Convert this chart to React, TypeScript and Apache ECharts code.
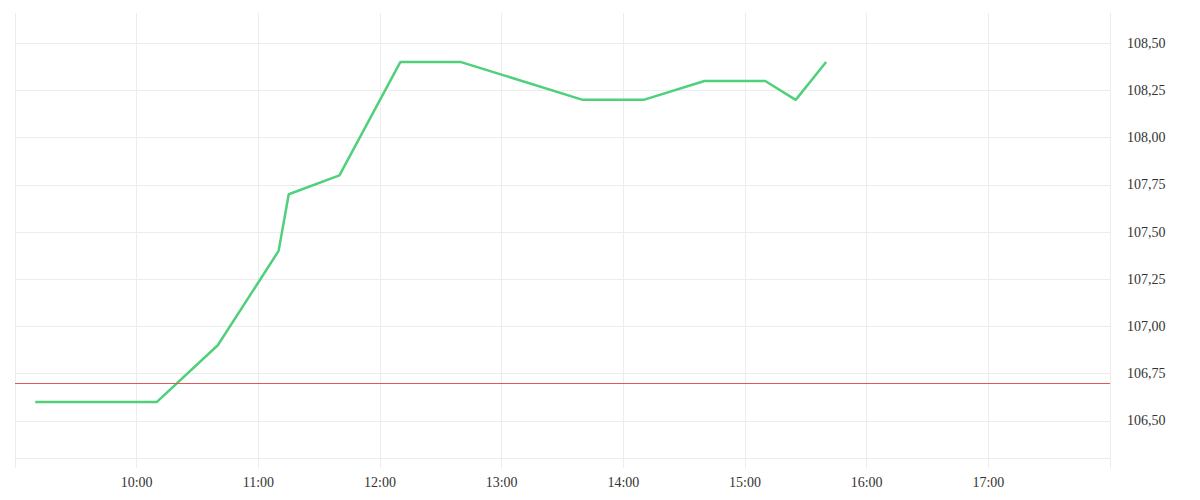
import { useEffect, useRef } from "react";
import * as echarts from "echarts";

// trading times and prices
const times = [
  "09:10", "10:10", "10:40", "11:10", "11:15", "11:40", "12:10",
  "12:40", "13:40", "14:10", "14:40", "15:10", "15:25", "15:40",
];
const prices = [
  106.6, 106.6, 106.9, 107.4, 107.7, 107.8, 108.4,
  108.4, 108.2, 108.2, 108.3, 108.3, 108.2, 108.4,
];
const referencePrice = 106.7;
const dayStart = "09:00";
const dayEnd = "18:00";
const priceMin = 106.25;
const priceMax = 108.66;
const priceStep = 0.25;

const toMinutes = (t: string) => {
  const [h, m] = t.split(":").map(Number);
  return h * 60 + m;
};
const fmtTime = (v: number) => {
  const h = Math.floor(v / 60);
  const m = v % 60;
  return `${h < 10 ? "0" + h : h}:${m < 10 ? "0" + m : m}`;
};

const GRID = "#ececec";
const FONT = "'Liberation Serif', serif";

export default function App() {
  const chartRef = useRef<HTMLDivElement>(null);

  useEffect(() => {
    if (!chartRef.current) return;
    const chart = echarts.init(chartRef.current, undefined, { renderer: "svg" });

    const option: echarts.EChartsOption = {
      animation: false,
      grid: { left: 7, right: 82, top: 5, bottom: 40 },
      xAxis: {
        type: "value",
        min: toMinutes(dayStart),
        max: toMinutes(dayEnd),
        interval: 60,
        offset: -10,
        axisLine: { show: true, lineStyle: { color: GRID } },
        axisTick: { show: true, length: 10, lineStyle: { color: GRID } },
        splitLine: { show: true, lineStyle: { color: GRID } },
        axisLabel: {
          showMinLabel: false,
          showMaxLabel: false,
          margin: 17,
          color: "#333",
          fontFamily: FONT,
          fontSize: 14,
          formatter: (v: number) => fmtTime(v),
        },
      },
      yAxis: {
        type: "value",
        position: "right",
        min: priceMin,
        max: priceMax,
        interval: priceStep,
        axisLine: { show: false },
        axisTick: { show: false },
        splitLine: {
          show: true,
          lineStyle: {
            // first (grid bottom) and last (grid top) lines are not drawn
            color: [
              "transparent", GRID, GRID, GRID, GRID, GRID,
              GRID, GRID, GRID, GRID, "transparent",
            ],
          },
        },
        axisLabel: {
          showMinLabel: false,
          showMaxLabel: false,
          margin: 17,
          color: "#333",
          fontFamily: FONT,
          fontSize: 14,
          formatter: (v: number) => v.toFixed(2).replace(".", ","),
        },
      },
      series: [
        {
          type: "line",
          data: times.map((t, i) => [toMinutes(t), prices[i]]),
          showSymbol: false,
          lineStyle: { color: "#4fd07b", width: 2.5 },
          markLine: {
            silent: true,
            symbol: "none",
            label: { show: false },
            lineStyle: { color: "#e05a5a", width: 1, type: "solid" },
            data: [{ yAxis: referencePrice }],
          },
        },
      ],
    };

    chart.setOption(option);
    return () => chart.dispose();
  }, []);

  return <div ref={chartRef} style={{ width: 1184, height: 500 }} />;
}
